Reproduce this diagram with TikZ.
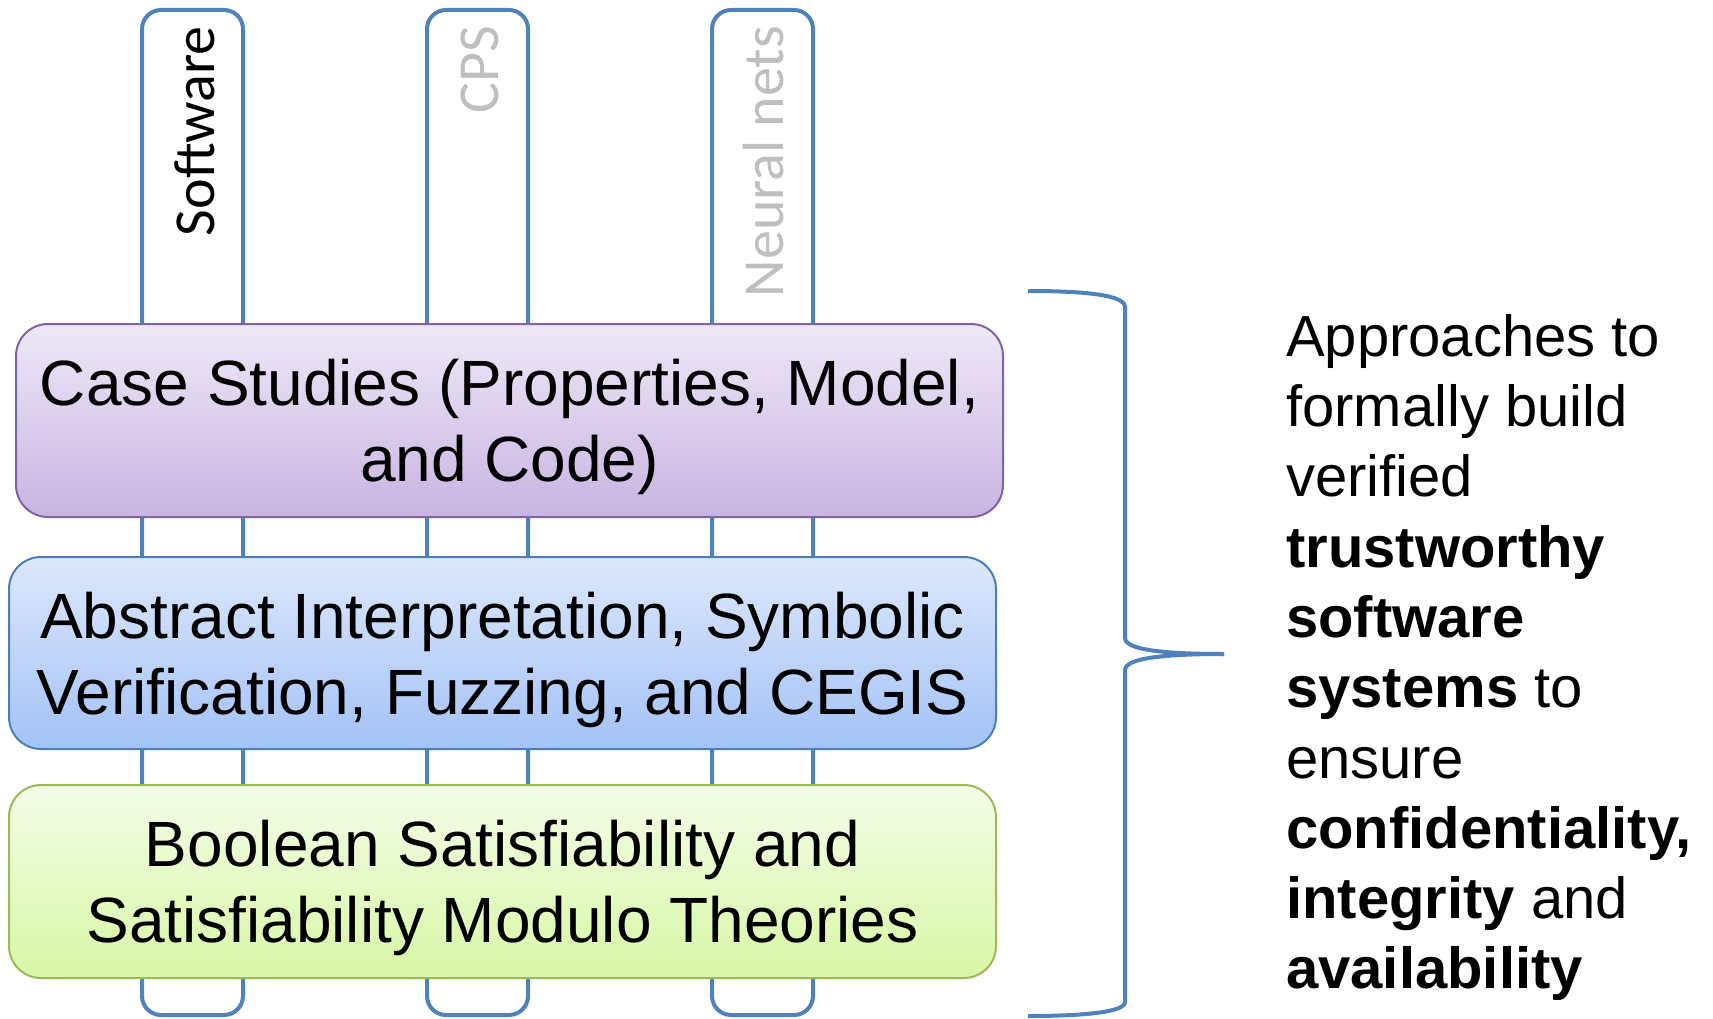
\documentclass[tikz,border=0pt]{standalone}
\usepackage{fontspec}
\setmainfont{Liberation Sans}
\newfontfamily\calib{Carlito}
\definecolor{colblue}{HTML}{4F81BD}
\definecolor{cpsgray}{HTML}{BFBFBF}
\definecolor{purpborder}{HTML}{8064A2}
\definecolor{purptop}{HTML}{EEE8F7}
\definecolor{purpbot}{HTML}{C8B4E2}
\definecolor{blueborder}{HTML}{4A7EBB}
\definecolor{bluetop}{HTML}{DDE8FC}
\definecolor{bluebot}{HTML}{A3C2F7}
\definecolor{greenborder}{HTML}{9BBB59}
\definecolor{greentop}{HTML}{F3FDE7}
\definecolor{greenbot}{HTML}{D8F7A6}
\begin{document}
\begin{tikzpicture}[x=1pt,y=-1pt,
  col/.style={draw=colblue, line width=4pt, fill=white, rounded corners=19pt},
  lab/.style={font=\calib\fontsize{58}{70}\selectfont, rotate=90, anchor=base east, inner sep=0pt},
  layer/.style={rounded corners=32pt, line width=2pt, minimum width=987pt, inner sep=0pt},
  layertext/.style={align=center, inner sep=0pt, font=\fontsize{64}{76}\selectfont},
  bracestyle/.style={draw=colblue, line width=4pt},
  desc/.style={anchor=north west, align=left, inner sep=0pt, font=\fontsize{58}{70.3}\selectfont}
]
\useasboundingbox (0,0) rectangle (1713,1019);
% columns
\draw[col] (142,10) rectangle (243,1015);
\draw[col] (427,10) rectangle (528,1015);
\draw[col] (712,10) rectangle (813,1015);
\node[lab, text=black] (sw) at (214,26) {Software};
\node[lab, text=cpsgray] (cps) at (498,26) {CPS};
\node[lab, text=cpsgray] (nn) at (783,26) {Neural nets};
% layers
\node[layer, draw=purpborder, top color=purptop, bottom color=purpbot, minimum height=193pt] (cs) at (509.5,420.5) {};
\node[layertext] (cstext) at ([yshift=-6pt]cs.center) {Case Studies (Properties, Model,\\and Code)};
\node[layer, draw=blueborder, top color=bluetop, bottom color=bluebot, minimum height=192pt] (ai) at (502.5,653) {};
\node[layertext] (aitext) at ([yshift=-6.5pt]ai.center) {Abstract Interpretation, Symbolic\\Verification, Fuzzing, and CEGIS};
\node[layer, draw=greenborder, top color=greentop, bottom color=greenbot, minimum height=193pt] (sat) at (502.5,881.5) {};
\node[layertext] (sattext) at ([yshift=-6.5pt]sat.center) {Boolean Satisfiability and\\Satisfiability Modulo Theories};
% brace
\draw[bracestyle] (1028,291) .. controls (1085,291) and (1125,295) .. (1125,307) -- (1125,638) .. controls (1125,650) and (1165,654) .. (1224,654);
\draw[bracestyle] (1224,654) .. controls (1165,654) and (1125,658) .. (1125,670) -- (1125,1002) .. controls (1125,1012) and (1085,1016) .. (1028,1016);
% description
\node[desc] (txt) at (1286,314) {Approaches to\\formally build\\verified\\\textbf{trustworthy}\\\textbf{software}\\\textbf{systems} to\\ensure\\\textbf{confidentiality,}\\\textbf{integrity} and\\\textbf{availability}};
\end{tikzpicture}
\end{document}
